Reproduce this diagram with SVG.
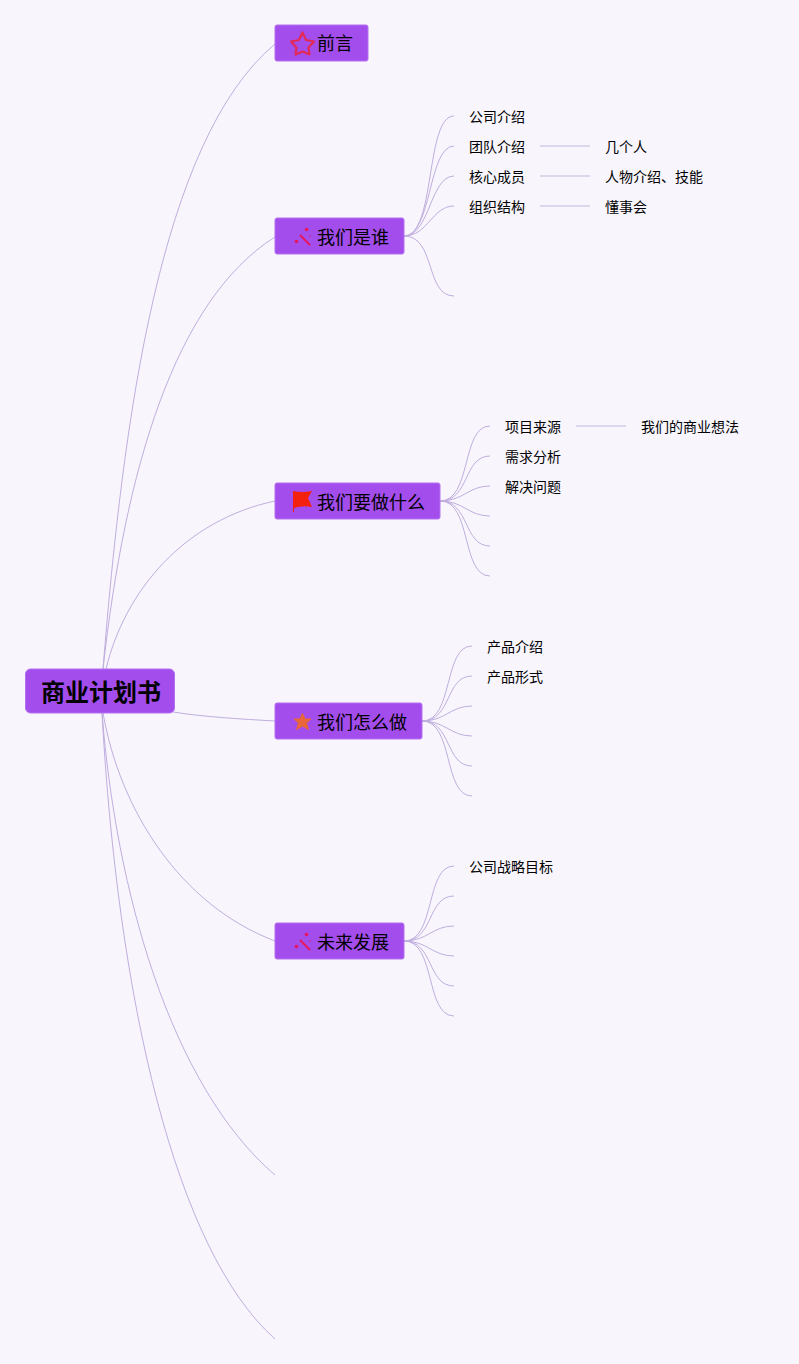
<svg xmlns="http://www.w3.org/2000/svg" width="799" height="1364" viewBox="0 0 799 1364">
<style>
text{font-family:"Noto Sans CJK SC","Noto Sans",sans-serif;fill:#000}
.box{fill:#a34ded;stroke:#b470f0;stroke-width:1}
.t{font-size:18px}
.s{font-size:14px}
.r{font-size:24px;font-weight:700}
.c path{fill:none;stroke:#c0aede;stroke-width:1}
.c .l{stroke:#d3cde6;stroke-width:1.500}
</style>
<rect width="799" height="1364" fill="#f8f5fd"/>
<g id="connectors" class="c">
<path d="M103 669C123 420 160 140 275 44"/>
<path d="M103 669C125 470 175 300 275 237"/>
<path d="M106 669C125 590 185 520 275 501"/>
<path d="M173 712C205 717 240 719 275 721"/>
<path d="M103 713C120 810 180 905 275 941"/>
<path d="M102 713C116 890 170 1085 275 1175"/>
<path d="M102 713C118 1000 175 1250 275 1339"/>
<path d="M404 236C436 236 425 116 454 116"/>
<path d="M404 236C432 236 428 146 454 146"/>
<path d="M404 236C430 236 430 176 454 176"/>
<path d="M404 236C428 236 432 206 454 206"/>
<path d="M404 236C436 236 425 296 454 296"/>
<path class="l" d="M540 146H590"/><path class="l" d="M540 176H590"/><path class="l" d="M540 206H590"/>
<path d="M440 501C472 501 461 426 490 426"/>
<path d="M440 501C470 501 463 456 490 456"/>
<path d="M440 501C464 501 468 486 490 486"/>
<path d="M440 501C464 501 468 516 490 516"/>
<path d="M440 501C470 501 463 546 490 546"/>
<path d="M440 501C472 501 461 576 490 576"/>
<path class="l" d="M576 426H626"/>
<path d="M422 721C454 721 443 646 472 646"/>
<path d="M422 721C452 721 445 676 472 676"/>
<path d="M422 721C446 721 450 706 472 706"/>
<path d="M422 721C446 721 450 736 472 736"/>
<path d="M422 721C452 721 445 766 472 766"/>
<path d="M422 721C454 721 443 796 472 796"/>
<path d="M404 941C436 941 425 866 454 866"/>
<path d="M404 941C434 941 427 896 454 896"/>
<path d="M404 941C428 941 432 926 454 926"/>
<path d="M404 941C428 941 432 956 454 956"/>
<path d="M404 941C434 941 427 986 454 986"/>
<path d="M404 941C436 941 425 1016 454 1016"/>
</g>
<g id="root"><rect class="box" x="25.500" y="669" width="149" height="44" rx="5"/><text class="r" x="41" y="701">商业计划书</text></g>
<g id="n1"><rect class="box" x="275" y="25" width="93" height="36" rx="2"/>
<path d="M302.500 32.500L306 40L314 41.500L308.500 47.500L309.500 54.500L302.500 51.500L295.500 54.500L296.500 47.500L291 41.500L299 40Z" fill="none" stroke="#e32a55" stroke-width="2.200" stroke-linejoin="round"/>
<text class="t" x="317" y="50">前言</text></g>
<g id="n2"><rect class="box" x="275" y="218" width="129" height="36" rx="2"/>
<path d="M300 235L310 245" stroke="#e8175d" stroke-width="2" fill="none"/><circle cx="306.500" cy="229.500" r="1.800" fill="#e8175d"/><circle cx="296.500" cy="241.500" r="1.800" fill="#e8175d"/><circle cx="310" cy="236" r="0.800" fill="#e8175d"/>
<text class="t" x="317" y="244">我们是谁</text></g>
<g id="n3"><rect class="box" x="275" y="483" width="165" height="36" rx="2"/>
<path d="M293 491Q303 493 312 491L308 498L312 507Q303 505 294 508V512H293Z" fill="#f5210f"/>
<text class="t" x="317" y="509">我们要做什么</text></g>
<g id="n4"><rect class="box" x="275" y="703" width="147" height="36" rx="2"/>
<path d="M302.500 713.500L305 719H311L306.500 723L308.500 729.500L302.500 726L296.500 729.500L298.500 723L294 719H300Z" fill="#e8663a" stroke="#e8663a" stroke-width="1" stroke-linejoin="round"/>
<text class="t" x="317" y="729">我们怎么做</text></g>
<g id="n5"><rect class="box" x="275" y="923" width="129" height="36" rx="2"/>
<path d="M300 940L310 950" stroke="#e8175d" stroke-width="2" fill="none"/><circle cx="306.500" cy="934.500" r="1.800" fill="#e8175d"/><circle cx="296.500" cy="946.500" r="1.800" fill="#e8175d"/><circle cx="310" cy="941" r="0.800" fill="#e8175d"/>
<text class="t" x="317" y="949">未来发展</text></g>
<g id="leaves" class="s">
<text class="s" x="469" y="122">公司介绍</text>
<text class="s" x="469" y="152">团队介绍</text>
<text class="s" x="469" y="182">核心成员</text>
<text class="s" x="469" y="212">组织结构</text>
<text class="s" x="605" y="152">几个人</text>
<text class="s" x="605" y="182">人物介绍、技能</text>
<text class="s" x="605" y="212">懂事会</text>
<text class="s" x="505" y="432">项目来源</text>
<text class="s" x="505" y="462">需求分析</text>
<text class="s" x="505" y="492">解决问题</text>
<text class="s" x="641" y="432">我们的商业想法</text>
<text class="s" x="487" y="652">产品介绍</text>
<text class="s" x="487" y="682">产品形式</text>
<text class="s" x="469" y="872">公司战略目标</text>
</g>
</svg>
